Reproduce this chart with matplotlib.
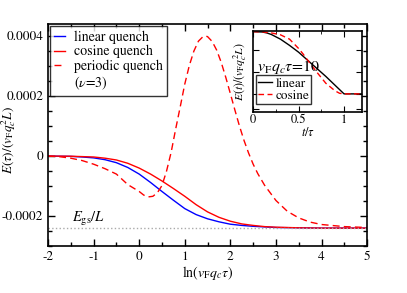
import numpy as np
import matplotlib
matplotlib.use('Agg')
import matplotlib.pyplot as plt
from matplotlib.ticker import MultipleLocator

plt.rcParams['font.family'] = 'STIXGeneral'
plt.rcParams['mathtext.fontset'] = 'stix'
plt.rcParams['axes.unicode_minus'] = False

# main panel: energy vs ln(vF qc tau)
lin_x = [-2, -1.75, -1.5, -1.25, -1, -0.75, -0.5, -0.25, 0, 0.25, 0.5, 0.75, 1, 1.25, 1.5, 1.75,
         2, 2.25, 2.5, 2.75, 3, 3.5, 4, 5]
lin_y = [0, -0.0000005, -0.000001, -0.000003, -0.000006, -0.000012, -0.000022, -0.000038, -0.00006,
         -0.000088, -0.000118, -0.000147, -0.000175, -0.000195, -0.000209, -0.000219, -0.000227,
         -0.000231, -0.000234, -0.000236, -0.000238, -0.000239, -0.00024, -0.00024]

cos_x = [-2, -1.5, -1, -0.75, -0.5, -0.25, 0, 0.25, 0.5, 0.75, 1, 1.25, 1.5, 1.75, 2, 2.25, 2.5,
         2.75, 3, 3.5, 4, 5]
cos_y = [0, -0.0000005, -0.000003, -0.000007, -0.000013, -0.000024, -0.00004, -0.00006, -0.000083,
         -0.000108, -0.000134, -0.000162, -0.000186, -0.000204, -0.000217, -0.000226, -0.000231,
         -0.000235, -0.000237, -0.000239, -0.00024, -0.00024]

per_x = [-2, -1.75, -1.5, -1.25, -1, -0.75, -0.5, -0.25, 0, 0.1, 0.2, 0.3, 0.4, 0.5, 0.6, 0.7, 0.8,
         0.9, 1.0, 1.1, 1.2, 1.3, 1.4, 1.45, 1.5, 1.6, 1.7, 1.8, 1.9, 2.0, 2.1, 2.2, 2.3, 2.4, 2.5,
         2.6, 2.75, 3.0, 3.25, 3.5, 3.75, 4.0, 4.5, 5.0]
per_y = [0, -0.000002, -0.000007, -0.000015, -0.000027, -0.000042, -0.00006, -0.000095, -0.000118,
         -0.00013, -0.000136, -0.000134, -0.000122, -0.000098, -0.00005, 0.000012, 0.00009,
         0.000164, 0.00024, 0.000302, 0.00035, 0.000383, 0.000398, 0.0004, 0.000398, 0.000382,
         0.000353, 0.000312, 0.000262, 0.000208, 0.000153, 0.0001, 0.000052, 0.00001, -0.000027,
         -0.000058, -0.000097, -0.000148, -0.000184, -0.000206, -0.00022, -0.000228, -0.000235,
         -0.000238]

e_gs = -0.00024

# inset: E(t) normalised, t/tau
in_lin_t = [0, 0.1, 0.15, 0.2, 0.3, 0.4, 0.5, 0.6, 0.7, 0.8, 0.9, 1.0, 1.2]
in_lin_y = [0, -0.005, -0.02, -0.045, -0.12, -0.22, -0.33, -0.46, -0.59, -0.72, -0.86, -1.0, -1.0]
in_cos_t = [0, 0.1, 0.2, 0.3, 0.4, 0.5, 0.55, 0.6, 0.7, 0.8, 0.9, 0.95, 1.0, 1.2]
in_cos_y = [0, -0.003, -0.02, -0.05, -0.12, -0.27, -0.36, -0.46, -0.65, -0.83, -0.95, -0.99, -1.0, -1.0]

fig = plt.figure(figsize=(4.07, 2.93), dpi=100)
ax = fig.add_axes([0.118, 0.160, 0.784, 0.758])

ax.plot(lin_x, lin_y, color='#0000ff', lw=1.0, label='linear quench')
ax.plot(cos_x, cos_y, color='#ff0000', lw=1.0, label='cosine quench')
ax.plot(per_x, per_y, color='#ff0000', lw=1.0, ls=(0, (5, 3)), label='periodic quench')
ax.plot([], [], color='none', label='($\\nu$=3)')
ax.axhline(e_gs, color='#aaaaaa', lw=1.0, ls=':')
ax.text(-1.48, e_gs + 0.000002, '$E_{\\rm gs}/L$', fontsize=10.5, va='bottom')

ax.set_xlim(-2, 5)
ax.set_ylim(-0.0003, 0.00044)
ax.set_xticks([-2, -1, 0, 1, 2, 3, 4, 5])
ax.set_xticklabels(['-2', '-1', '0', '1', '2', '3', '4', '5'])
ax.set_yticks([-0.0002, 0, 0.0002, 0.0004])
ax.set_yticklabels(['-0.0002', '0', '0.0002', '0.0004'])
ax.xaxis.set_minor_locator(MultipleLocator(0.5))
ax.yaxis.set_minor_locator(MultipleLocator(0.00005))
ax.tick_params(which='both', direction='in', top=True, right=True, labelsize=9.5, width=1.0)
ax.tick_params(which='major', length=5)
ax.tick_params(which='minor', length=3)
for s in ax.spines.values():
    s.set_linewidth(1.2)
ax.set_xlabel('$\\ln(v_{\\rm F}q_c\\tau)$', fontsize=10, labelpad=1)
ax.set_ylabel('$E(\\tau)/(v_{\\rm F}q_c^2L)$', fontsize=9.5)
ax.yaxis.set_label_coords(-0.095, 0.477)

leg = ax.legend(loc='upper left', fontsize=10, frameon=True, fancybox=False, borderpad=0.3,
                handlelength=0.8, handletextpad=0.6, labelspacing=0.1, borderaxespad=0.15)
leg.get_frame().set_edgecolor('black')
leg.get_frame().set_linewidth(1.0)

# inset
ins = fig.add_axes([0.622, 0.618, 0.268, 0.276])
ins.plot(in_lin_t, in_lin_y, color='black', lw=1.0, label='linear')
ins.plot(in_cos_t, in_cos_y, color='#ff0000', lw=1.0, ls=(0, (4, 2.5)), label='cosine')
ins.set_xlim(0, 1.2)
ins.set_ylim(-1.29, 0.01)
ins.set_xticks([0, 0.5, 1])
ins.set_xticklabels(['0', '0.5', '1'])
ins.xaxis.set_minor_locator(MultipleLocator(0.25))
ins.set_yticks([-0.3, -0.65, -1.0, -1.25])
ins.set_yticklabels([])
ins.tick_params(which='both', direction='in', top=True, right=True, labelsize=9, pad=2)
ins.tick_params(which='major', length=4)
ins.tick_params(which='minor', length=2.5)
for s in ins.spines.values():
    s.set_linewidth(1.2)
ins.set_xlabel('$t/\\tau$', fontsize=9, labelpad=0)
ins.set_ylabel('$E(t)/(v_{\\rm F}q_c^2L)$', fontsize=8.5, labelpad=1)
ins.text(0.04, -0.64, '$v_{\\rm F}q_c\\tau$=10', fontsize=11.5, va='baseline')
leg2 = ins.legend(loc='lower left', fontsize=9.5, frameon=True, fancybox=False, borderpad=0.15,
                  handlelength=1.0, handletextpad=0.3, labelspacing=0.0,
                  bbox_to_anchor=(0.03, 0.1), borderaxespad=0.0)
leg2.get_frame().set_edgecolor('black')
leg2.get_frame().set_linewidth(1.0)

fig.savefig('out.png', dpi=100)
